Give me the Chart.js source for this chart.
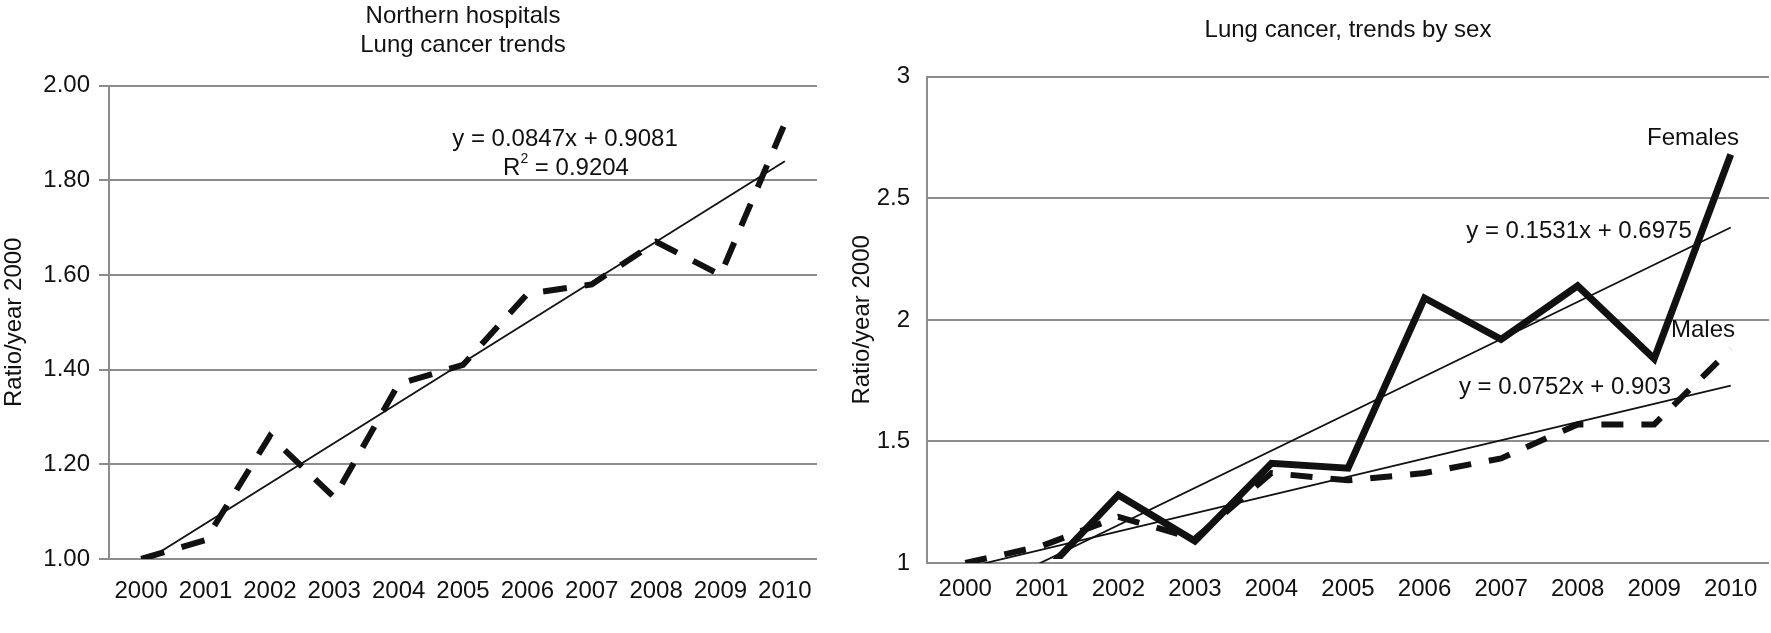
<!DOCTYPE html>
<html>
<head>
<meta charset="utf-8">
<script src="https://cdn.jsdelivr.net/npm/chart.js@4.4.1/dist/chart.umd.min.js"></script>
<style>
  html, body { margin: 0; padding: 0; background: #fff; }
  #wrap { position: relative; width: 1771px; height: 633px; overflow: hidden; }
  .box { position: absolute; top: 0; height: 633px; }
  #leftBox { left: 0; width: 840px; }
  #rightBox { left: 840px; width: 931px; }
</style>
</head>
<body>
<div id="wrap">
  <div class="box" id="leftBox"><canvas id="northChart"></canvas></div>
  <div class="box" id="rightBox"><canvas id="sexChart"></canvas></div>
</div>
<script>
// --- data ---
const years = ['2000', '2001', '2002', '2003', '2004', '2005', '2006', '2007', '2008', '2009', '2010'];

// left panel: Northern hospitals
const northRatio = [1.00, 1.04, 1.26, 1.13, 1.37, 1.41, 1.56, 1.58, 1.67, 1.60, 1.92];
const northTrend = [0.99, null, null, null, null, null, null, null, null, null, 1.84];
const northTicks = [1.0, 2.0, 0.2];

// right panel: by sex
const femalesRatio = [1.00, 0.95, 1.28, 1.09, 1.41, 1.39, 2.09, 1.92, 2.14, 1.84, 2.68];
const malesRatio = [1.00, 1.07, 1.19, 1.10, 1.37, 1.34, 1.37, 1.43, 1.57, 1.57, 1.88];
const femalesTrend = [0.85, null, null, null, null, null, null, null, null, null, 2.38];
const malesTrend = [0.98, null, null, null, null, null, null, null, null, null, 1.73];
const sexTicks = [1, 3, 0.5];

Chart.defaults.font.family = '"Liberation Sans", Arial, sans-serif';
Chart.defaults.font.size = 24;
Chart.defaults.color = '#111';
Chart.defaults.animation = false;

const gridGray = '#8c8c8c';
const ink = '#111';

// text labels drawn on the plot (equations, series names)
const textLabels = {
    id: 'textLabels',
    afterDatasetsDraw(chart, args, opts) {
        const ctx = chart.ctx;
        ctx.save();
        ctx.fillStyle = ink;
        ctx.textBaseline = 'middle';
        ctx.textAlign = 'center';
        ctx.font = '24px "Liberation Sans", Arial, sans-serif';
        (opts.items || []).forEach(t => {
            if (t.sup) {
                // "R" + superscript 2 + rest
                const base = '24px "Liberation Sans", Arial, sans-serif';
                const small = '14px "Liberation Sans", Arial, sans-serif';
                ctx.font = base;
                const w1 = ctx.measureText(t.text).width;
                const w3 = ctx.measureText(t.rest).width;
                ctx.font = small;
                const w2 = ctx.measureText(t.sup).width;
                let x = t.x - (w1 + w2 + w3) / 2;
                ctx.textAlign = 'left';
                ctx.font = base;
                ctx.fillText(t.text, x, t.y);
                ctx.font = small;
                ctx.fillText(t.sup, x + w1, t.y - 9);
                ctx.font = base;
                ctx.fillText(t.rest, x + w1 + w2, t.y);
                ctx.textAlign = 'center';
            } else {
                ctx.fillText(t.text, t.x, t.y);
            }
        });
        ctx.restore();
    }
};

// --- Left chart ---
new Chart(document.getElementById('northChart'), {
    type: 'line',
    data: {
        labels: years,
        datasets: [
            {
                data: northRatio,
                borderColor: ink,
                borderWidth: 6,
                borderDash: [24, 18],
                pointRadius: 0,
                tension: 0,
                fill: false
            },
            {
                data: northTrend,
                borderColor: ink,
                borderWidth: 1.8,
                pointRadius: 0,
                spanGaps: true,
                fill: false
            }
        ]
    },
    options: {
        responsive: true,
        maintainAspectRatio: false,
        layout: { padding: { left: 0, right: 23, top: 0, bottom: 0 } },
        plugins: {
            legend: { display: false },
            tooltip: { enabled: false },
            title: {
                display: true,
                fullSize: false,
                text: ['Northern hospitals', 'Lung cancer trends'],
                font: { size: 24, weight: 'normal' },
                color: ink,
                padding: { top: 2, bottom: 26 }
            },
            textLabels: {
                items: [
                    { text: 'y = 0.0847x + 0.9081', x: 565, y: 139 },
                    { text: 'R', sup: '2', rest: ' = 0.9204', x: 566, y: 168 }
                ]
            }
        },
        scales: {
            x: {
                type: 'category',
                offset: true,
                grid: { display: false, drawTicks: false },
                border: { display: false },
                ticks: { padding: 18, maxRotation: 0, minRotation: 0, autoSkip: false, color: ink },
                afterFit: s => { s.height = 74; }
            },
            y: {
                min: northTicks[0],
                max: northTicks[1],
                ticks: {
                    stepSize: northTicks[2],
                    padding: 9,
                    color: ink,
                    callback: v => Number(v).toFixed(2)
                },
                grid: { color: gridGray, lineWidth: 2, drawTicks: true, tickLength: 10 },
                border: { display: true, color: gridGray, width: 2 },
                title: {
                    display: true,
                    text: 'Ratio/year 2000',
                    color: ink,
                    font: { size: 24 },
                    padding: { top: 0, bottom: 0 }
                },
                afterFit: s => { s.width = 109; }
            }
        }
    },
    plugins: [textLabels]
});

// --- Right chart ---
new Chart(document.getElementById('sexChart'), {
    type: 'line',
    data: {
        labels: years,
        datasets: [
            {
                label: 'Females',
                data: femalesRatio,
                borderColor: ink,
                borderWidth: 7,
                pointRadius: 0,
                tension: 0,
                fill: false,
                clip: { left: 10, top: 10, right: 10, bottom: -4 }
            },
            {
                label: 'Males',
                data: malesRatio,
                borderColor: ink,
                borderWidth: 6,
                borderDash: [22, 18],
                pointRadius: 0,
                tension: 0,
                fill: false
            },
            {
                data: femalesTrend,
                borderColor: ink,
                borderWidth: 1.8,
                pointRadius: 0,
                spanGaps: true,
                fill: false
            },
            {
                data: malesTrend,
                borderColor: ink,
                borderWidth: 1.8,
                pointRadius: 0,
                spanGaps: true,
                fill: false
            }
        ]
    },
    options: {
        responsive: true,
        maintainAspectRatio: false,
        layout: { padding: { left: 0, right: 2, top: 0, bottom: 0 } },
        plugins: {
            legend: { display: false },
            tooltip: { enabled: false },
            title: {
                display: true,
                fullSize: false,
                text: 'Lung cancer, trends by sex',
                font: { size: 24, weight: 'normal' },
                color: ink,
                padding: { top: 16, bottom: 32 }
            },
            textLabels: {
                items: [
                    { text: 'Females', x: 853, y: 138 },
                    { text: 'y = 0.1531x + 0.6975', x: 739, y: 231 },
                    { text: 'Males', x: 863, y: 330 },
                    { text: 'y = 0.0752x + 0.903', x: 725, y: 387 }
                ]
            }
        },
        scales: {
            x: {
                type: 'category',
                offset: true,
                grid: { display: false, drawTicks: false },
                border: { display: false },
                ticks: { padding: 12, maxRotation: 0, minRotation: 0, autoSkip: false, color: ink },
                afterFit: s => { s.height = 70; }
            },
            y: {
                min: sexTicks[0],
                max: sexTicks[1],
                ticks: {
                    stepSize: sexTicks[2],
                    padding: 17,
                    color: ink,
                    callback: v => String(Math.round(v * 10) / 10)
                },
                grid: { color: gridGray, lineWidth: 2, drawTicks: false },
                border: { display: true, color: gridGray, width: 2 },
                title: {
                    display: true,
                    text: 'Ratio/year 2000',
                    color: ink,
                    font: { size: 24 },
                    padding: { top: 8, bottom: 0 }
                },
                afterFit: s => { s.width = 87; }
            }
        }
    },
    plugins: [textLabels]
});
</script>
</body>
</html>
